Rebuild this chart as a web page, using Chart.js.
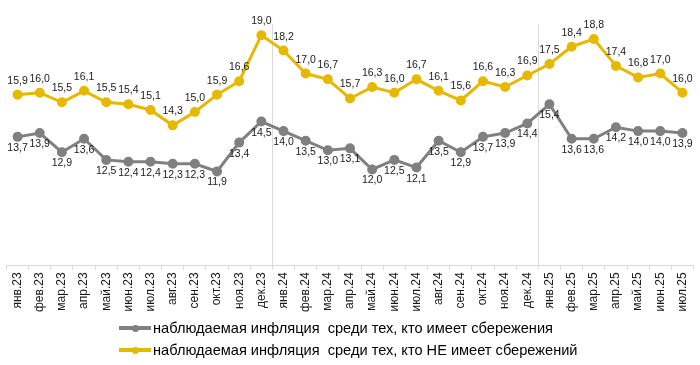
<!DOCTYPE html>
<html>
<head>
<meta charset="utf-8">
<script src="https://cdn.jsdelivr.net/npm/chart.js@4/dist/chart.umd.min.js"></script>
<style>
    html, body { margin: 0; padding: 0; background: #fff; }
    #wrap { position: relative; width: 700px; height: 365px; }
    #legend { position: absolute; left: 119px; top: 317px; font-family: "Liberation Sans", Arial, sans-serif; font-size: 14.6px; color: #000; white-space: pre; }
    .item { height: 22px; line-height: 18px; display: flex; align-items: center; }
    .swatch { position: relative; width: 32px; height: 4px; margin-right: 2px; }
    .swatch i { position: absolute; left: 13px; top: -1.5px; width: 7px; height: 7px; border-radius: 50%; }
</style>
</head>
<body>
<div id="wrap">
    <canvas id="myChart" width="700" height="365"></canvas>
    <div id="legend"></div>
</div>
<script>
(function() {
    const months = ['янв.23', 'фев.23', 'мар.23', 'апр.23', 'май.23', 'июн.23', 'июл.23', 'авг.23', 'сен.23', 'окт.23', 'ноя.23', 'дек.23',
        'янв.24', 'фев.24', 'мар.24', 'апр.24', 'май.24', 'июн.24', 'июл.24', 'авг.24', 'сен.24', 'окт.24', 'ноя.24', 'дек.24',
        'янв.25', 'фев.25', 'мар.25', 'апр.25', 'май.25', 'июн.25', 'июл.25'];
    const withSavings = [13.7, 13.9, 12.9, 13.6, 12.5, 12.4, 12.4, 12.3, 12.3, 11.9, 13.4, 14.5,
        14.0, 13.5, 13.0, 13.1, 12.0, 12.5, 12.1, 13.5, 12.9, 13.7, 13.9, 14.4,
        15.4, 13.6, 13.6, 14.2, 14.0, 14.0, 13.9];
    const noSavings = [15.9, 16.0, 15.5, 16.1, 15.5, 15.4, 15.1, 14.3, 15.0, 15.9, 16.6, 19.0,
        18.2, 17.0, 16.7, 15.7, 16.3, 16.0, 16.7, 16.1, 15.6, 16.6, 16.3, 16.9,
        17.5, 18.4, 18.8, 17.4, 16.8, 17.0, 16.0];
    // year separators sit between these category indexes
    const yearBreaks = [11.5, 23.5];

    const grey = '#808080';
    const yellow = '#E6B800';
    const font = '"Liberation Sans", Arial, sans-serif';

    const fmt = v => v.toFixed(1).replace('.', ',');

    // value labels: grey below the point, yellow above
    const valueLabels = {
        id: 'valueLabels',
        afterDatasetsDraw(chart) {
            const ctx = chart.ctx;
            ctx.save();
            ctx.font = '10.5px ' + font;
            ctx.fillStyle = '#1a1a1a';
            ctx.textAlign = 'center';
            ctx.textBaseline = 'alphabetic';
            chart.data.datasets.forEach((ds, i) => {
                const meta = chart.getDatasetMeta(i);
                meta.data.forEach((pt, j) => {
                    const dy = ds.labelPos === 'below' ? 14 : -11;
                    ctx.fillText(fmt(ds.data[j]), pt.x, pt.y + dy);
                });
            });
            ctx.restore();
        }
    };

    const separators = {
        id: 'separators',
        beforeDatasetsDraw(chart) {
            const ctx = chart.ctx;
            const x = chart.scales.x;
            const y = chart.scales.y;
            ctx.save();
            ctx.strokeStyle = '#d9d9d9';
            ctx.lineWidth = 1;
            yearBreaks.forEach(b => {
                const px = Math.round(x.getPixelForValue(b)) + 0.5;
                ctx.beginPath();
                ctx.moveTo(px, y.getPixelForValue(19.6));
                ctx.lineTo(px, y.bottom);
                ctx.stroke();
            });
            ctx.restore();
        }
    };

    const ctx = document.getElementById('myChart').getContext('2d');
    const chart = new Chart(ctx, {
        type: 'line',
        data: {
            labels: months,
            datasets: [{
                label: 'наблюдаемая инфляция  среди тех, кто имеет сбережения',
                data: withSavings,
                borderColor: grey,
                backgroundColor: grey,
                borderWidth: 3,
                pointRadius: 3.5,
                pointHoverRadius: 3.5,
                labelPos: 'below'
            }, {
                label: 'наблюдаемая инфляция  среди тех, кто НЕ имеет сбережений',
                data: noSavings,
                borderColor: yellow,
                backgroundColor: yellow,
                borderWidth: 3,
                pointRadius: 3.5,
                pointHoverRadius: 3.5,
                labelPos: 'above'
            }]
        },
        options: {
            responsive: false,
            animation: false,
            layout: { padding: { top: 16, left: 1, right: 3, bottom: 50 } },
            plugins: {
                legend: { display: false },
                tooltip: { enabled: false }
            },
            scales: {
                x: {
                    offset: true,
                    grid: {
                        offset: true,
                        drawOnChartArea: false,
                        drawTicks: true,
                        tickLength: 4,
                        color: '#d9d9d9'
                    },
                    border: { color: '#d9d9d9' },
                    ticks: {
                        autoSkip: false,
                        minRotation: 90,
                        maxRotation: 90,
                        padding: 3,
                        color: '#1a1a1a',
                        font: { family: font, size: 12 }
                    }
                },
                y: {
                    display: false,
                    min: 7,
                    max: 20
                }
            }
        },
        plugins: [separators, valueLabels]
    });

    // html legend, rows left-aligned like the original
    const legend = document.getElementById('legend');
    chart.data.datasets.forEach(ds => {
        const row = document.createElement('div');
        row.className = 'item';
        row.innerHTML = '<span class="swatch" style="background:' + ds.borderColor + '"><i style="background:' + ds.borderColor + '"></i></span>';
        row.appendChild(document.createTextNode(ds.label));
        legend.appendChild(row);
    });
})()
</script>
</body>
</html>
